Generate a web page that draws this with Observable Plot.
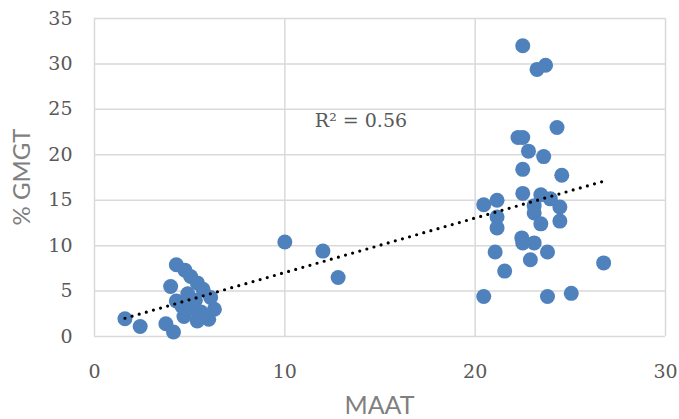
<!DOCTYPE html>
<html>
<head>
<meta charset="utf-8">
<script src="https://cdn.jsdelivr.net/npm/d3@7"></script>
<script src="https://cdn.jsdelivr.net/npm/@observablehq/plot@0.6"></script>
<style>
  html, body { margin: 0; padding: 0; background: #fff; }
  #chart { width: 679px; height: 419px; }
</style>
</head>
<body>
<div id="chart"></div>
<script>
// MAAT (°C) values
const maat = [
  1.6, 2.4,
  4.3, 4.75, 5.05, 4.0, 5.4, 5.7, 6.1, 6.3, 6.0, 5.4, 3.75, 4.15, 4.3, 4.7, 5.0, 4.9, 5.3, 4.6, 5.6,
  10.0, 12.0, 12.8,
  22.5, 23.25, 23.7, 24.3, 22.25, 22.5, 22.8, 23.6, 22.5, 24.55,
  22.5, 23.45, 23.95, 20.45, 21.15, 21.15, 21.15, 23.1, 23.1, 24.45, 24.45, 23.45,
  22.45, 22.5, 23.1, 21.05, 23.8, 22.9, 21.55,
  20.45, 23.8, 25.05, 26.75
];
// % GMGT values
const gmgt = [
  1.95, 1.1,
  7.9, 7.3, 6.6, 5.5, 5.9, 5.2, 4.3, 3.0, 1.9, 1.7, 1.4, 0.5, 3.9, 2.2, 3.0, 4.7, 4.0, 3.3, 2.7,
  10.4, 9.4, 6.5,
  32.0, 29.4, 29.85, 23.0, 21.9, 21.9, 20.4, 19.8, 18.4, 17.75,
  15.75, 15.6, 15.15, 14.5, 15.0, 13.15, 11.95, 14.4, 13.6, 14.25, 12.7, 12.4,
  10.85, 10.3, 10.3, 9.3, 9.3, 8.45, 7.2,
  4.4, 4.4, 4.75, 8.1
];
const xTicks = [0, 10, 20, 30];
const yTicks = [0, 5, 10, 15, 20, 25, 30, 35];
const r2Label = "R² = 0.56";
const r2Anchor = {x: 14.0, y: 23.7};
const xTitle = "MAAT";
const yTitle = "% GMGT";

const data = maat.map((x, i) => ({x, y: gmgt[i]}));

const W = 679, H = 419;
const mL = 94, mR = 14, mT = 18, mB = 83;

const plot = Plot.plot({
  width: W,
  height: H,
  marginLeft: mL,
  marginRight: mR,
  marginTop: mT,
  marginBottom: mB,
  style: {fontFamily: "DejaVu Serif", fontSize: "19px", color: "#595959", background: "#fff"},
  x: {domain: [0, 30], ticks: xTicks, label: null},
  y: {domain: [0, 35], ticks: yTicks, label: null},
  marks: [
    Plot.gridX(xTicks, {stroke: "#d9d9d9", strokeOpacity: 1, strokeWidth: 1.5}),
    Plot.gridY(yTicks, {stroke: "#d9d9d9", strokeOpacity: 1, strokeWidth: 1.5}),
    Plot.axisX(xTicks, {tickSize: 0, tickPadding: 28, tickFormat: d => String(d), label: null, fill: "#595959"}),
    Plot.axisY(yTicks, {tickSize: 0, tickPadding: 22, tickFormat: d => String(d), label: null, fill: "#595959"}),
    Plot.dot(data, {x: "x", y: "y", r: 7.5, fill: "#4f81bd", stroke: "none"}),
    Plot.linearRegressionY(data, {x: "x", y: "y", ci: 0, stroke: "#000", strokeWidth: 3.2, strokeDasharray: "0,7.4", strokeLinecap: "round"}),
    Plot.text([r2Anchor], {x: "x", y: "y", text: () => r2Label, fill: "#595959", fontSize: 19, fontFamily: "DejaVu Serif"})
  ]
});

const svg = d3.select(plot);
svg.append("text")
  .attr("x", mL + (W - mL - mR) / 2)
  .attr("y", 408)
  .attr("text-anchor", "middle")
  .attr("dominant-baseline", "middle")
  .attr("fill", "#7f7f7f")
  .style("font-family", "Lato")
  .style("font-size", "25px")
  .text(xTitle);
svg.append("text")
  .attr("transform", `translate(24,${mT + (H - mT - mB) / 2}) rotate(-90)`)
  .attr("text-anchor", "middle")
  .attr("dominant-baseline", "middle")
  .attr("fill", "#7f7f7f")
  .style("font-family", "Lato")
  .style("font-size", "24px")
  .text(yTitle);

document.getElementById("chart").appendChild(plot);
</script>
</body>
</html>
